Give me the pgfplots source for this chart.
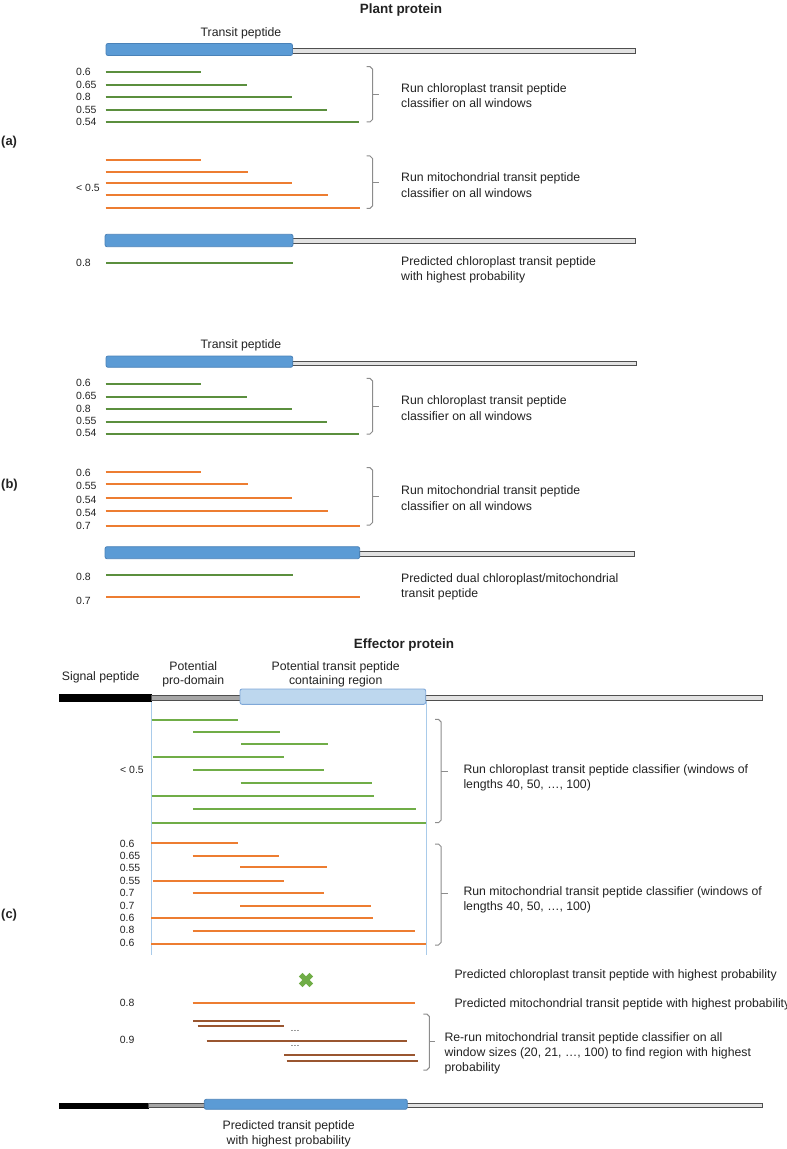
\documentclass[border=0pt]{standalone}
\usepackage{pgfplots}
\pgfplotsset{compat=1.18}
\usepackage{fontspec}
\setmainfont{Liberation Sans}
\definecolor{dgreen}{HTML}{5B8F3E}
\definecolor{lgreen}{HTML}{70AD47}
\definecolor{orng}{HTML}{ED7D31}
\definecolor{brwn}{HTML}{9A5630}
\definecolor{bblue}{HTML}{5B9BD5}
\definecolor{bblueb}{HTML}{4A82B8}
\definecolor{lblue}{HTML}{BDD7EE}
\definecolor{lblueb}{HTML}{7FA8D8}
\definecolor{vline}{HTML}{A9CBEA}
\definecolor{tailf}{HTML}{E2E2E2}
\definecolor{taild}{HTML}{4F4F4F}
\definecolor{brkc}{HTML}{8C8C8C}
\definecolor{txt}{HTML}{222222}
\newcommand{\seg}[4][]{\addplot[mark=none,line width=2bp,#1] coordinates {(#2,#4) (#3,#4)};}
\newcommand{\rbox}[5][]{\addplot[mark=none,#1] coordinates {(#2,#4) (#3,#4) (#3,#5) (#2,#5)} -- cycle;}
\newcommand{\brk}[5]{% x0, ytop, ybot, ymid, ticklen
  \pgfmathsetmacro\xa{#1+3.5}\pgfmathsetmacro\xb{#1+6}\pgfmathsetmacro\xc{#1+6+#5}%
  \pgfmathsetmacro\ya{#2+2.5}\pgfmathsetmacro\yb{#3-2.5}%
  \addplot[mark=none,brkc,line width=1bp] coordinates {(#1,#2) (\xa,#2) (\xb,\ya) (\xb,\yb) (\xa,#3) (#1,#3)};
  \addplot[mark=none,brkc,line width=1bp] coordinates {(\xb,#4) (\xc,#4)};}
\newcommand{\num}[3]{\node[anchor=west,inner sep=0,font=\fontsize{10.5}{12}\selectfont,text=txt] at (axis cs:#1,#2) {#3};}
\newcommand{\txt}[3]{\node[anchor=west,inner sep=0,font=\fontsize{12.3}{14}\selectfont,text=txt] at (axis cs:#1,#2) {#3};}
\newcommand{\ctxt}[3]{\node[anchor=center,inner sep=0,font=\fontsize{12.3}{14}\selectfont,text=txt] at (axis cs:#1,#2) {#3};}
\begin{document}
\begin{tikzpicture}
\path[use as bounding box] (0,0) rectangle (787bp,1149bp);
\begin{axis}[
  anchor=south west, at={(0,0)},
  scale only axis, width=787bp, height=1149bp,
  xmin=0, xmax=787, ymin=0, ymax=1149, y dir=reverse,
  hide axis, clip=false,
  tail/.style={fill=tailf,draw=taild,line width=0.9bp},
  bluebar/.style={fill=bblue,draw=bblueb,line width=0.8bp,rounded corners=2bp},
]
% ---------- titles ----------
\node[font=\bfseries\fontsize{13.5}{16}\selectfont,text=txt] at (axis cs:401,10) {Plant protein};
\node[font=\bfseries\fontsize{13.5}{16}\selectfont,text=txt] at (axis cs:404,645) {Effector protein};
% ---------- (a) ----------
\node[anchor=west,inner sep=0,font=\bfseries\fontsize{13}{15}\selectfont,text=txt] at (axis cs:1,142) {(a)};
\ctxt{241}{33}{Transit peptide}
\rbox[tail]{292}{635.5}{48}{53}
\rbox[bluebar]{106}{292.5}{43.5}{55.5}
\seg[dgreen]{105.5}{200.7}{72}
\seg[dgreen]{105.5}{247}{85}
\seg[dgreen]{105.5}{292}{97}
\seg[dgreen]{105.5}{327.3}{110}
\seg[dgreen]{105.5}{359}{122}
\num{76}{72}{0.6}
\num{76}{84.7}{0.65}
\num{76}{96.7}{0.8}
\num{76}{109.5}{0.55}
\num{76}{121.5}{0.54}
\brk{366.5}{66.7}{122}{94.3}{6}
\txt{401}{89}{Run chloroplast transit peptide}
\txt{401}{103.5}{classifier on all windows}
\seg[orng]{105.5}{201}{160}
\seg[orng]{105.5}{247.7}{172}
\seg[orng]{105.5}{292.3}{183}
\seg[orng]{105.5}{327.7}{195}
\seg[orng]{105.5}{359.7}{208}
\num{76}{188.3}{< 0.5}
\brk{366.5}{156}{208.3}{182.3}{6}
\txt{401}{178.3}{Run mitochondrial transit peptide}
\txt{401}{193.3}{classifier on all windows}
\rbox[tail]{292.5}{635.5}{238.7}{243.3}
\rbox[bluebar]{105}{293}{234.3}{246.7}
\seg[dgreen]{106}{293}{263}
\num{76}{262.7}{0.8}
\txt{401}{262.5}{Predicted chloroplast transit peptide}
\txt{401}{277.5}{with highest probability}
% ---------- (b) ----------
\node[anchor=west,inner sep=0,font=\bfseries\fontsize{13}{15}\selectfont,text=txt] at (axis cs:1,485.3) {(b)};
\ctxt{241}{345}{Transit peptide}
\rbox[tail]{292}{636}{361}{365.5}
\rbox[bluebar]{106}{292.7}{356}{367.3}
\seg[dgreen]{105.5}{200.7}{384}
\seg[dgreen]{105.5}{247}{397}
\seg[dgreen]{105.5}{292}{409}
\seg[dgreen]{105.5}{327.3}{422}
\seg[dgreen]{105.5}{359}{434}
\num{76}{383.3}{0.6}
\num{76}{396}{0.65}
\num{76}{408.7}{0.8}
\num{76}{420.7}{0.55}
\num{76}{433}{0.54}
\brk{366.5}{378.3}{434}{406}{6}
\txt{401}{401}{Run chloroplast transit peptide}
\txt{401}{416}{classifier on all windows}
\seg[orng]{105.5}{201}{472}
\seg[orng]{105.5}{247.7}{484}
\seg[orng]{105.5}{292.3}{498}
\seg[orng]{105.5}{327.7}{511}
\seg[orng]{105.5}{359.7}{526}
\num{76}{472.7}{0.6}
\num{76}{486}{0.55}
\num{76}{499.7}{0.54}
\num{76}{513}{0.54}
\num{76}{526}{0.7}
\brk{366.5}{467.7}{525}{496}{6}
\txt{401}{491}{Run mitochondrial transit peptide}
\txt{401}{505.7}{classifier on all windows}
\rbox[tail]{359}{634.7}{551.3}{556.3}
\rbox[bluebar]{105}{359.7}{546.7}{558.7}
\seg[dgreen]{106}{293}{575}
\seg[orng]{106}{360}{597}
\num{76}{576.7}{0.8}
\num{76}{600.7}{0.7}
\txt{401}{579.3}{Predicted dual chloroplast/mitochondrial}
\txt{401}{594.3}{transit peptide}
% ---------- (c) ----------
\node[anchor=west,inner sep=0,font=\bfseries\fontsize{13}{15}\selectfont,text=txt] at (axis cs:1,915) {(c)};
\ctxt{100.7}{677.3}{Signal peptide}
\ctxt{193.3}{665.7}{Potential}
\ctxt{193.3}{681}{pro-domain}
\ctxt{335.7}{667}{Potential transit peptide}
\ctxt{335.7}{681.7}{containing region}
\addplot[mark=none,vline,line width=1bp] coordinates {(151.5,700) (151.5,955)};
\addplot[mark=none,vline,line width=1bp] coordinates {(426.5,700) (426.5,955)};
\rbox[tail]{425}{762.3}{695.7}{700.5}
\rbox[fill=black,draw=black,line width=0.5bp]{59.3}{151.7}{694.7}{700.9}
\rbox[fill=black!35,draw=taild,line width=0.9bp]{151.7}{241}{695.3}{700.3}
\rbox[fill=lblue,draw=lblueb,line width=0.9bp,rounded corners=2bp]{240}{425.7}{689}{704.3}
% chloroplast windows
\seg[lgreen]{151.7}{238.3}{720}
\seg[lgreen]{193.3}{280}{732}
\seg[lgreen]{241.3}{328}{744}
\seg[lgreen]{153.3}{284}{757}
\seg[lgreen]{193.3}{324}{770}
\seg[lgreen]{240.7}{371.7}{783}
\seg[lgreen]{151.7}{374}{796}
\seg[lgreen]{193.3}{415.7}{809}
\seg[lgreen]{151.7}{426.3}{823}
\num{120}{770}{< 0.5}
\brk{435}{719.3}{822.7}{771.7}{7}
\txt{463.3}{770.7}{Run chloroplast transit peptide classifier (windows of}
\txt{463.3}{785.7}{lengths 40, 50, …, 100)}
% mitochondrial windows
\seg[orng]{151}{237.7}{843}
\seg[orng]{192.7}{279.3}{856}
\seg[orng]{240.3}{327.3}{867}
\seg[orng]{153}{283.7}{881}
\seg[orng]{192.7}{323.7}{893}
\seg[orng]{240}{370.7}{906}
\seg[orng]{151}{373.3}{918}
\seg[orng]{192.7}{415}{931}
\seg[orng]{151}{425.7}{944}
\num{119.7}{844}{0.6}
\num{119.7}{856}{0.65}
\num{119.7}{868}{0.55}
\num{119.7}{881}{0.55}
\num{119.7}{893}{0.7}
\num{119.7}{905.7}{0.7}
\num{119.7}{918}{0.6}
\num{119.7}{930}{0.8}
\num{119.7}{942.7}{0.6}
\brk{435}{844}{945}{893.3}{7}
\txt{463.3}{892.7}{Run mitochondrial transit peptide classifier (windows of}
\txt{463.3}{907.7}{lengths 40, 50, …, 100)}
% results
\addplot[only marks,mark=x,mark size=7.5bp,lgreen,mark options={line width=5bp,line cap=butt}] coordinates {(306,980)};
\txt{454.3}{975.7}{Predicted chloroplast transit peptide with highest probability}
\seg[orng]{192.7}{415}{1003}
\num{119.7}{1003.3}{0.8}
\node[overlay,anchor=west,inner sep=0,font=\fontsize{12.3}{14}\selectfont,text=txt] at (axis cs:454.3,1004.3) {Predicted mitochondrial transit peptide with highest probability};
\seg[brwn,line width=1.8bp]{193.3}{280.3}{1021}
\seg[brwn,line width=1.8bp]{197.7}{284.3}{1026}
\seg[brwn,line width=1.8bp]{206.7}{407.3}{1041}
\seg[brwn,line width=1.8bp]{284}{415}{1055}
\seg[brwn,line width=1.8bp]{286.7}{417.7}{1061}
\node[inner sep=0,font=\fontsize{9.5}{10}\selectfont,text=txt] at (axis cs:295,1031) {…};
\node[inner sep=0,font=\fontsize{9.5}{10}\selectfont,text=txt] at (axis cs:295,1046) {…};
\num{119.7}{1040}{0.9}
\brk{423.3}{1014}{1070}{1041.7}{6}
\txt{444.3}{1038.7}{Re-run mitochondrial transit peptide classifier on all}
\txt{444.3}{1053.3}{window sizes (20, 21, …, 100) to find region with highest}
\txt{444.3}{1068.3}{probability}
% final
\rbox[tail]{406}{762.3}{1103.3}{1107.7}
\rbox[fill=black,draw=black,line width=0.5bp]{59.3}{148.3}{1103}{1108}
\rbox[fill=black!35,draw=taild,line width=0.9bp]{148.3}{205}{1103.3}{1107.7}
\rbox[bluebar]{204.3}{407.3}{1099.3}{1109.3}
\ctxt{288.7}{1126}{Predicted transit peptide}
\ctxt{288.7}{1141}{with highest probability}
\end{axis}
\end{tikzpicture}
\end{document}
